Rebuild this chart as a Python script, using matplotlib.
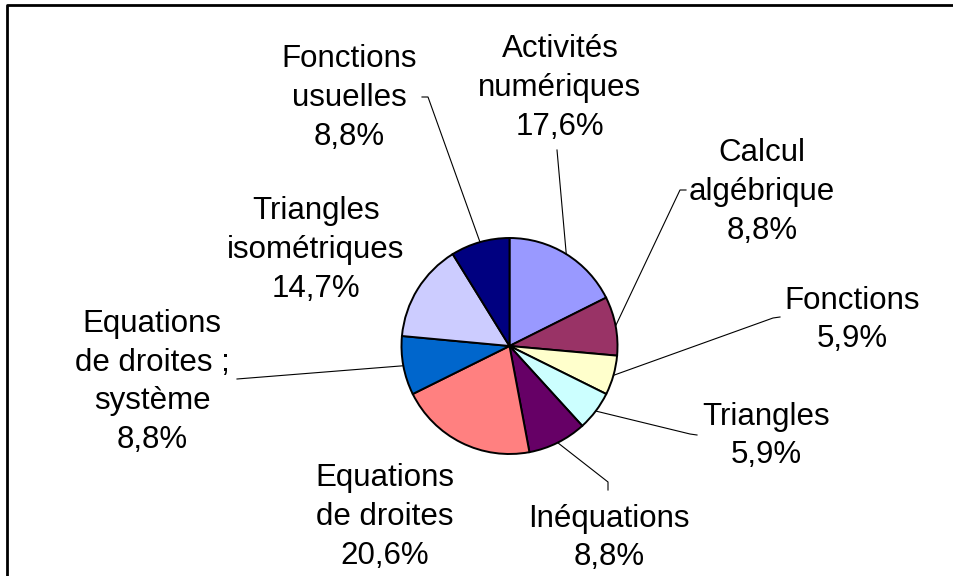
import numpy as np
import matplotlib
matplotlib.use("Agg")
import matplotlib.pyplot as plt
from matplotlib.lines import Line2D

# Categories and shares (%) in clockwise order from 12 o'clock
categories = ["Activités\nnumériques", "Calcul\nalgébrique", "Fonctions", "Triangles",
              "Inéquations", "Equations\nde droites", "Equations\nde droites ;\nsystème",
              "Triangles\nisométriques", "Fonctions\nusuelles"]
shares = [17.6, 8.8, 5.9, 5.9, 8.8, 20.6, 8.8, 14.7, 8.8]
colors = ["#9999FF", "#993366", "#FFFFCC", "#CCFFFF", "#660066",
          "#FF8080", "#0066CC", "#CCCCFF", "#000080"]

# Label block centres (pixels, y measured from the top)
label_pos = [(560, 88), (762, 192), (852, 320), (766, 436), (609, 538),
             (385, 517), (152, 382), (316, 250), (349, 98)]
# Leader line end points (None = no leader line), extra points give the small hook
leader_pts = [[(557, 150)], [(680, 190), (686, 190)], [(773, 318), (780, 317)],
              [(690, 434), (697, 435)], [(608, 482), (608, 490)], None,
              [(237, 379)], None, [(428, 97), (422, 97)]]

W, H = 954, 576
cx, cy, r = 509.5, H - 346, 108

plt.rcParams["font.family"] = ["Liberation Sans", "DejaVu Sans"]
fig = plt.figure(figsize=(W / 100, H / 100), dpi=100)
ax = fig.add_axes([0, 0, 1, 1])

wedges, _ = ax.pie(shares, colors=colors, startangle=90, counterclock=False,
                   center=(cx, cy), radius=r, frame=True,
                   wedgeprops=dict(edgecolor="black", linewidth=1.4))
ax.set_xlim(0, W)
ax.set_ylim(0, H)
ax.axis("off")

for w, name, val, (lx, ly), pts in zip(wedges, categories, shares, label_pos, leader_pts):
    pct = f"{val:.1f}".replace(".", ",") + "%"
    ax.text(lx, H - ly, name + "\n" + pct, ha="center", va="center",
            fontsize=22.5, linespacing=1.38, color="black")
    if pts is None:
        continue
    ang = np.deg2rad((w.theta1 + w.theta2) / 2)
    xs = [cx + r * np.cos(ang)] + [p[0] for p in pts]
    ys = [cy + r * np.sin(ang)] + [H - p[1] for p in pts]
    ax.plot(xs, ys, color="black", linewidth=0.8)

# Chart area border (top and left edges)
fig.add_artist(Line2D([7 / W, 7 / W, 1], [0, 1 - 5 / H, 1 - 5 / H],
                      transform=fig.transFigure, color="black", linewidth=2))

fig.savefig("out.png", dpi=100)
